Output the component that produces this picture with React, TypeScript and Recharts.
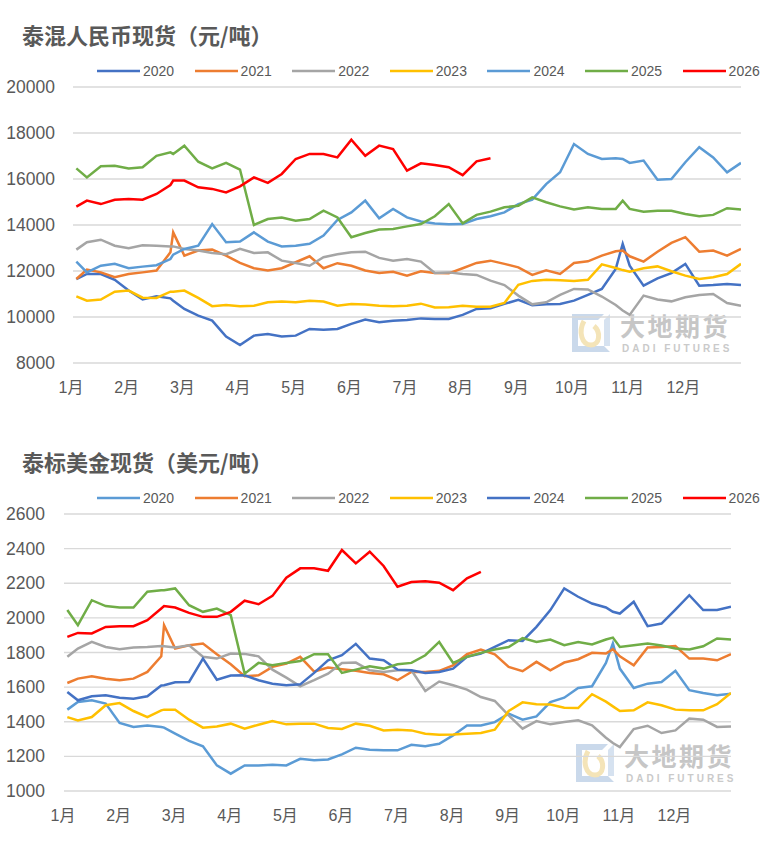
import React from "react";
import { CartesianGrid, Line, LineChart, XAxis, YAxis } from "recharts";

// positions along the year, in months from 1 Jan (extra points at 1.8 and 9.875 catch spikes)
const monthPos = [
  0.06, 0.25, 0.5, 0.75,
  1, 1.25, 1.5, 1.75, 1.8,
  2, 2.25, 2.5, 2.75,
  3, 3.25, 3.5, 3.75,
  4, 4.25, 4.5, 4.75,
  5, 5.25, 5.5, 5.75,
  6, 6.25, 6.5, 6.75,
  7, 7.25, 7.5, 7.75,
  8, 8.25, 8.5, 8.75,
  9, 9.25, 9.5, 9.75, 9.875,
  10, 10.25, 10.5, 10.75,
  11, 11.25, 11.5, 11.75,
  12,
];
const monthTicks = [0, 1, 2, 3, 4, 5, 6, 7, 8, 9, 10, 11];
const monthLabels = ["1月", "2月", "3月", "4月", "5月", "6月", "7月", "8月", "9月", "10月", "11月", "12月"];
const years = ["2020", "2021", "2022", "2023", "2024", "2025", "2026"];

// 泰混人民币现货 (元/吨)
const cny2020 = [
  11650, 11870, 11870, 11620,
  11150, 10760, 10900, 10810, 10710,
  10350, 10060, 9840, 9150,
  8780, 9190, 9260, 9150,
  9190, 9480, 9450, 9480,
  9700, 9890, 9770, 9840,
  9870, 9940, 9910, 9910,
  10090, 10350, 10380, 10570,
  10750, 10510, 10550, 10570,
  10710, 10960, 11220, 12090, 13180,
  12230, 11360, 11680, 11910,
  12310, 11360, 11390, 11440,
  11390,
];
const cny2021 = [
  11650, 12060, 11940, 11730,
  11870, 11940, 12020, 12810, 13680,
  12670, 12890, 12930, 12670,
  12350, 12120, 12020, 12120,
  12380, 12640, 12120, 12340,
  12230, 12020, 11910, 11970,
  11800, 11990, 11910, 11900,
  12120, 12350, 12450, 12310,
  12160, 11830, 12030, 11870,
  12350, 12420, 12670, 12860, 12890,
  12640, 12410, 12840, 13220,
  13470, 12840, 12890, 12670,
  12960,
];
const cny2022 = [
  12930, 13250, 13360, 13100,
  12990, 13120, 13100, 13070, 13070,
  12960, 12890, 12780, 12730,
  12960, 12780, 12810, 12450,
  12350, 12230, 12600, 12730,
  12810, 12840, 12570, 12450,
  12520, 12410, 11910, 11940,
  11870, 11830, 11580, 11390,
  10930, 10550, 10640, 10960,
  11220, 11200, 10890, 10520, 10280,
  10090, 10930, 10760, 10680,
  10860, 10960, 11000, 10610,
  10490,
];
const cny2023 = [
  10900, 10710, 10760, 11100,
  11150, 10840, 10830, 11100, 11100,
  11150, 10830, 10470, 10520,
  10470, 10490, 10640, 10670,
  10640, 10710, 10670, 10490,
  10570, 10540, 10490, 10470,
  10490, 10580, 10410, 10420,
  10490, 10450, 10450, 10610,
  11400, 11570, 11620, 11600,
  11570, 11620, 12290, 12130, 12040,
  11970, 12120, 12200, 11990,
  11800, 11650, 11730, 11870,
  12310,
];
const cny2024 = [
  12410, 11940, 12230, 12310,
  12120, 12190, 12250, 12520, 12710,
  12960, 13100, 14040, 13250,
  13280, 13680, 13280, 13070,
  13100, 13180, 13540, 14220,
  14550, 15060, 14290, 14700,
  14330, 14150, 14070, 14030,
  14040, 14260, 14380, 14550,
  14910, 15100, 15780, 16290,
  17520, 17090, 16870, 16900, 16870,
  16700, 16800, 15970, 16000,
  16730, 17380, 16940, 16290,
  16700,
];
const cny2025 = [
  16460, 16070, 16550, 16580,
  16460, 16510, 17010, 17160, 17090,
  17450, 16750, 16460, 16700,
  16410, 14000, 14260, 14330,
  14190, 14260, 14620, 14330,
  13470, 13650, 13800, 13830,
  13940, 14040, 14380, 14910,
  14070, 14440, 14580, 14770,
  14840, 15200, 14990, 14810,
  14670, 14770, 14700, 14700, 15060,
  14700, 14580, 14620, 14620,
  14480, 14380, 14440, 14730,
  14670,
];
const cny2026 = [
  14800, 15060, 14910, 15100,
  15130, 15100, 15350, 15740, 15930,
  15930, 15640, 15570, 15420,
  15680, 16070, 15830, 16220,
  16870, 17090, 17090, 16940,
  17710, 17010, 17450, 17300,
  16360, 16680, 16610, 16510,
  16170, 16770, 16900,
];

// 泰标美金现货 (美元/吨)
const usd2020 = [
  1470, 1514, 1524, 1505,
  1393, 1370, 1379, 1370, 1366,
  1331, 1289, 1258, 1148,
  1100, 1148, 1148, 1152,
  1148, 1186, 1177, 1182,
  1211, 1250, 1238, 1235,
  1235, 1267, 1258, 1273,
  1321, 1379, 1379, 1398,
  1447, 1412, 1431, 1514,
  1539, 1595, 1605, 1740, 1852,
  1707, 1595, 1620, 1630,
  1694, 1582, 1566, 1553,
  1562,
];
const usd2021 = [
  1624, 1649, 1663, 1649,
  1640, 1649, 1688, 1778, 1958,
  1823, 1842, 1852, 1790,
  1732, 1663, 1668, 1717,
  1736, 1775, 1690, 1713,
  1703, 1694, 1682, 1674,
  1640, 1688, 1688, 1694,
  1726, 1790, 1817, 1790,
  1717, 1692, 1746, 1697,
  1742, 1761, 1798, 1794, 1819,
  1778, 1726, 1829, 1832,
  1837, 1765, 1765, 1755,
  1790,
];
const usd2022 = [
  1775, 1823, 1861, 1832,
  1819, 1829, 1832, 1838, 1836,
  1829, 1842, 1775, 1765,
  1794, 1792, 1778, 1701,
  1655, 1605, 1640, 1678,
  1740, 1742, 1697, 1688,
  1697, 1697, 1578, 1632,
  1611, 1586, 1543, 1520,
  1437, 1360, 1404, 1385,
  1398, 1408, 1379, 1308, 1277,
  1254, 1358, 1377, 1335,
  1350, 1418, 1412, 1370,
  1373,
];
const usd2023 = [
  1427, 1408, 1427, 1495,
  1508, 1462, 1427, 1466, 1470,
  1470, 1412, 1366, 1373,
  1389, 1360, 1383, 1404,
  1385, 1389, 1389, 1364,
  1358, 1389, 1377, 1350,
  1354, 1350, 1331, 1325,
  1327, 1331, 1335, 1354,
  1462, 1512, 1501, 1499,
  1481, 1479, 1559, 1516, 1489,
  1462, 1466, 1512, 1495,
  1470, 1466, 1466, 1501,
  1566,
];
const usd2024 = [
  1572, 1524, 1547, 1553,
  1539, 1533, 1547, 1609, 1611,
  1628, 1630, 1765, 1643,
  1667, 1668, 1640, 1620,
  1611, 1616, 1682, 1755,
  1784, 1850, 1765, 1755,
  1701, 1697, 1682, 1688,
  1707, 1775, 1794, 1832,
  1871, 1867, 1948, 2045,
  2170, 2122, 2083, 2060, 2035,
  2025, 2093, 1952, 1967,
  2048, 2131, 2045, 2045,
  2064,
];
const usd2025 = [
  2045, 1958, 2102, 2068,
  2060, 2060, 2151, 2160, 2160,
  2170, 2073, 2035, 2054,
  2016, 1678, 1740, 1726,
  1740, 1751, 1790, 1790,
  1682, 1701, 1721, 1707,
  1732, 1740, 1784, 1861,
  1740, 1775, 1798, 1817,
  1832, 1883, 1861, 1875,
  1842, 1861, 1846, 1875, 1886,
  1832, 1842, 1852, 1840,
  1823, 1817, 1836, 1881,
  1875,
];
const usd2026 = [
  1890, 1913, 1910, 1948,
  1952, 1952, 1987, 2054, 2068,
  2060, 2029, 2006, 2006,
  2035, 2099, 2079, 2127,
  2232, 2286, 2286, 2272,
  2392, 2315, 2382, 2300,
  2180, 2207, 2212, 2203,
  2160, 2228, 2266,
];

const cnyTicks = [8000, 10000, 12000, 14000, 16000, 18000, 20000];
const usdTicks = [1000, 1200, 1400, 1600, 1800, 2000, 2200, 2400, 2600];

const cnyColors = ["#4472C4", "#ED7D31", "#A5A5A5", "#FFC000", "#5B9BD5", "#70AD47", "#FF0000"];
const usdColors = ["#5B9BD5", "#ED7D31", "#A5A5A5", "#FFC000", "#4472C4", "#70AD47", "#FF0000"];

const TEXT = "#595959";
const FONT = '"Liberation Sans", "Noto Sans CJK SC", sans-serif';

function buildRows(seriesList: number[][]) {
  return monthPos.map((m, i) => {
    const row: Record<string, number | null> = { m };
    years.forEach((y, k) => {
      const v = seriesList[k][i];
      row[y] = v === undefined ? null : v;
    });
    return row;
  });
}

const cnyRows = buildRows([cny2020, cny2021, cny2022, cny2023, cny2024, cny2025, cny2026]);
const usdRows = buildRows([usd2020, usd2021, usd2022, usd2023, usd2024, usd2025, usd2026]);

function MonthTick(props: any) {
  const { x, y, payload, shift } = props;
  return (
    <text
      x={x + shift}
      y={y}
      dy={22}
      textAnchor="middle"
      fill={TEXT}
      style={{ fontSize: "16px", fontFamily: FONT }}
    >
      {monthLabels[payload.value]}
    </text>
  );
}

function ValueTick(props: any) {
  const { y, payload, right } = props;
  return (
    <text
      x={right}
      y={y}
      dy={6}
      textAnchor="end"
      fill={TEXT}
      style={{ fontSize: "17.5px", fontFamily: FONT }}
    >
      {payload.value}
    </text>
  );
}

function Watermark({ left, top }: { left: number; top: number }) {
  return (
    <div style={{ position: "absolute", left, top, width: 170, height: 44 }}>
      <svg width={42} height={42} style={{ position: "absolute", left: 0, top: 0 }}>
        <path d="M2 2 H34 L28 8 H8 V34 H34 L40 40 H2 Z" fill="#CAD9EB" />
        <path d="M34 8 V34 H40 V2 Z" fill="#D6E2F0" />
        <path
          d="M14 9 C8 20 12 33 21 33 C30 33 31 20 24 14"
          stroke="#F4E4B8"
          strokeWidth={5}
          fill="none"
        />
      </svg>
      <div
        style={{
          position: "absolute",
          left: 50,
          top: 0,
          fontFamily: '"Noto Sans CJK SC", sans-serif',
          fontWeight: 700,
          fontSize: 25,
          lineHeight: "26px",
          letterSpacing: 2.5,
          color: "#C6C6C6",
          whiteSpace: "nowrap",
        }}
      >
        大地期货
      </div>
      <div
        style={{
          position: "absolute",
          left: 52,
          top: 32,
          fontFamily: '"Liberation Sans", sans-serif',
          fontWeight: 700,
          fontSize: 10,
          lineHeight: "10px",
          letterSpacing: 3,
          color: "#CACACA",
          whiteSpace: "nowrap",
        }}
      >
        DADI FUTURES
      </div>
    </div>
  );
}

type PanelProps = {
  top: number;
  height: number;
  plotTop: number;
  plotBottom: number;
  plotLeft: number;
  plotRight: number;
  title: string;
  rows: Record<string, number | null>[];
  colors: string[];
  ticks: number[];
  tickShift: number;
  labelRight: number;
  mark: { left: number; top: number };
};

function PricePanel({
  top,
  height,
  plotTop,
  plotBottom,
  plotLeft,
  plotRight,
  title,
  rows,
  colors,
  ticks,
  tickShift,
  labelRight,
  mark,
}: PanelProps) {
  return (
    <div style={{ position: "absolute", left: 0, top, width: 769, height }}>
      <div
        style={{
          position: "absolute",
          left: 22,
          top: plotTop - 68,
          fontFamily: '"Noto Sans CJK SC", sans-serif',
          fontWeight: 700,
          fontSize: 22,
          lineHeight: "30px",
          color: TEXT,
          whiteSpace: "nowrap",
        }}
      >
        {title}
      </div>
      {years.map((y, i) => (
        <div
          key={`legend-${y}`}
          style={{
            position: "absolute",
            left: 97 + i * 97.6,
            top: plotTop - 26,
            height: 20,
            display: "flex",
            alignItems: "center",
          }}
        >
          <svg width={44} height={6}>
            <line x1={0} y1={3} x2={43} y2={3} stroke={colors[i]} strokeWidth={2.6} />
          </svg>
          <span
            style={{
              marginLeft: 2,
              fontFamily: FONT,
              fontSize: 14,
              color: TEXT,
              lineHeight: "20px",
            }}
          >
            {y}
          </span>
        </div>
      ))}
      <Watermark left={mark.left} top={mark.top} />
      <div style={{ position: "absolute", left: 0, top: 0 }}>
        <LineChart
          width={769}
          height={height}
          data={rows}
          margin={{ top: plotTop, right: 769 - plotRight, bottom: 0, left: 0 }}
        >
          <CartesianGrid vertical={false} stroke="#D9D9D9" strokeWidth={1.4} />
          <XAxis
            dataKey="m"
            type="number"
            domain={[0, 12]}
            ticks={monthTicks}
            interval={0}
            allowDataOverflow
            axisLine={false}
            tickLine={false}
            height={height - plotBottom}
            tick={(p: any) => <MonthTick {...p} shift={tickShift} />}
          />
          <YAxis
            type="number"
            domain={[ticks[0], ticks[ticks.length - 1]]}
            ticks={ticks}
            interval={0}
            axisLine={false}
            tickLine={false}
            width={plotLeft}
            tick={(p: any) => <ValueTick {...p} right={labelRight} />}
          />
          {years.map((y, i) => (
            <Line
              key={`line-${y}`}
              dataKey={y}
              type="linear"
              stroke={colors[i]}
              strokeWidth={2.5}
              dot={false}
              activeDot={false}
              connectNulls={false}
              isAnimationActive={false}
            />
          ))}
        </LineChart>
      </div>
    </div>
  );
}

export default function App() {
  return (
    <div
      style={{
        position: "absolute",
        left: 0,
        top: 0,
        width: 769,
        height: 841,
        background: "#ffffff",
        overflow: "hidden",
      }}
    >
      <PricePanel
        top={0}
        height={400}
        plotTop={87}
        plotBottom={363}
        plotLeft={73}
        plotRight={741}
        title="泰混人民币现货（元/吨）"
        rows={cnyRows}
        colors={cnyColors}
        ticks={cnyTicks}
        tickShift={-2}
        labelRight={55}
        mark={{ left: 570, top: 312 }}
      />
      <PricePanel
        top={420}
        height={421}
        plotTop={94}
        plotBottom={371}
        plotLeft={64}
        plotRight={731}
        title="泰标美金现货（美元/吨）"
        rows={usdRows}
        colors={usdColors}
        ticks={usdTicks}
        tickShift={-1}
        labelRight={45}
        mark={{ left: 574, top: 322 }}
      />
    </div>
  );
}
